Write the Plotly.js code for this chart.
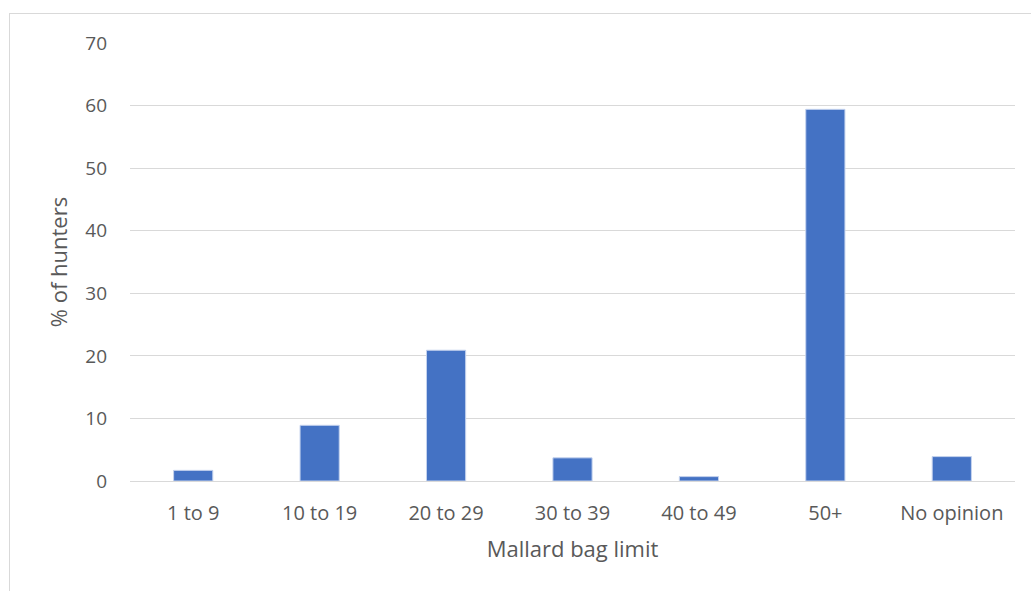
<!DOCTYPE html>
<html>
<head>
<meta charset="utf-8">
<script src="https://cdn.plot.ly/plotly-3.0.1.min.js"></script>
<style>
body{margin:0;background:#fff;}
#wrap{position:relative;width:1031px;height:591px;overflow:hidden;}
#frame{position:absolute;left:9px;top:13px;width:1040px;height:600px;border:1px solid #d9d9d9;box-sizing:border-box;}
#chart{position:absolute;left:0;top:0;width:1031px;height:591px;}
</style>
</head>
<body>
<div id="wrap"><div id="frame"></div><div id="chart"></div></div>
<script>
const categories = ["1 to 9", "10 to 19", "20 to 29", "30 to 39", "40 to 49", "50+", "No opinion"];
const percentHunters = [1.7, 8.9, 20.9, 3.7, 0.7, 59.4, 3.9];
const yTicks = [0, 10, 20, 30, 40, 50, 60, 70];

const trace = {
  type: "bar",
  x: categories,
  y: percentHunters,
  marker: {color: "#4472c4", line: {color: "#c5d3ee", width: 1}},
  hoverinfo: "x+y"
};

const layout = {
  width: 1031, height: 591,
  margin: {l: 130, r: 16, t: 43, b: 110},
  paper_bgcolor: "rgba(0,0,0,0)",
  plot_bgcolor: "rgba(0,0,0,0)",
  bargap: 0.69,
  showlegend: false,
  font: {family: "Open Sans, Carlito, sans-serif", color: "#595959", size: 19},
  xaxis: {
    type: "category",
    showgrid: false, zeroline: false, showline: false,
    ticks: "",
    ticklabelstandoff: 18,
    tickfont: {size: 20, color: "#595959"},
    title: {text: "Mallard bag limit", font: {size: 22, color: "#595959"}, standoff: 16}
  },
  yaxis: {
    range: [0, 70],
    tickvals: yTicks,
    ticktext: yTicks.map(String),
    showgrid: true, gridcolor: "#d9d9d9", gridwidth: 1,
    zeroline: true, zerolinecolor: "#d9d9d9", zerolinewidth: 1,
    showline: false, ticks: "",
    ticklabelstandoff: 22,
    tickfont: {size: 19, color: "#595959"},
    title: {text: "% of hunters", font: {size: 22, color: "#595959"}, standoff: 11}
  }
};

Plotly.newPlot("chart", [trace], layout, {displayModeBar: false, staticPlot: true});
</script>
</body>
</html>
